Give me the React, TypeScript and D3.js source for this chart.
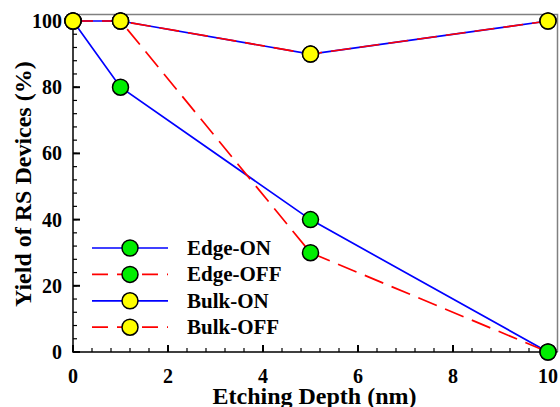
import * as d3 from 'd3';

const depths = [0, 1, 5, 10];
const edgeOn = [100, 80, 40, 0];
const edgeOff = [100, 100, 30, 0];
const bulkOn = [100, 100, 90, 100];
const bulkOff = [100, 100, 90, 100];
const xTicks = [0, 2, 4, 6, 8, 10];
const yTicks = [0, 20, 40, 60, 80, 100];

const series = [
  { name: 'Edge-ON', values: edgeOn, line: '#0000ff', dash: null, fill: '#00ee00' },
  { name: 'Edge-OFF', values: edgeOff, line: '#ff0000', dash: '20,9', fill: '#00ee00' },
  { name: 'Bulk-ON', values: bulkOn, line: '#0000ff', dash: null, fill: '#ffff00' },
  { name: 'Bulk-OFF', values: bulkOff, line: '#ff0000', dash: '20,9', fill: '#ffff00' },
];

const font = '"Liberation Serif", "Times New Roman", serif';

export default function App() {
  const width = 560;
  const height = 407;
  const left = 73;
  const bottom = 352;

  const x = d3.scaleLinear().domain([0, 10.2]).range([left, left + 475 * 1.02]);
  const y = d3.scaleLinear().domain([0, 102]).range([bottom, bottom - 331 * 1.02]);
  const [x0, x1] = x.range();
  const [y0, y1] = y.range();

  const line = d3
    .line<number>()
    .x((_, i) => x(depths[i]))
    .y((d) => y(d));

  const xMinor = d3.range(0, 10.01, 0.4);
  const yMinor = d3.range(0, 100.01, 4);

  return (
    <svg
      width={width}
      height={height}
      style={{ position: 'absolute', left: 0, top: 0, background: '#fff' }}
      fontFamily={font}
      fontWeight="bold"
    >
      {/* frame top & right */}
      <path d={`M${x0},${y1}H${x1}V${y0}`} fill="none" stroke="#808080" strokeWidth={1.5} />

      {/* axes */}
      <path d={`M${x0},${y1}V${y0}H${x1}`} fill="none" stroke="#000" strokeWidth={1.5} />
      {xMinor.map((v, i) => (
        <line key={'xm' + i} x1={x(v)} x2={x(v)} y1={y0} y2={y0 - 4} stroke="#000" strokeWidth={1.2} />
      ))}
      {xTicks.map((v) => (
        <line key={'xt' + v} x1={x(v)} x2={x(v)} y1={y0} y2={y0 - 7} stroke="#000" strokeWidth={2} />
      ))}
      {yMinor.map((v, i) => (
        <line key={'ym' + i} x1={x0} x2={x0 + 4} y1={y(v)} y2={y(v)} stroke="#000" strokeWidth={1.2} />
      ))}
      {yTicks.map((v) => (
        <line key={'yt' + v} x1={x0} x2={x0 + 7} y1={y(v)} y2={y(v)} stroke="#000" strokeWidth={2} />
      ))}

      {xTicks.map((v) => (
        <text key={'xl' + v} x={x(v)} y={383} fontSize={20} textAnchor="middle">
          {v}
        </text>
      ))}
      {yTicks.map((v) => (
        <text key={'yl' + v} x={62} y={y(v) + 7} fontSize={20} textAnchor="end">
          {v}
        </text>
      ))}

      <text x={(x0 + 548) / 2 + 4} y={404} fontSize={24} textAnchor="middle">
        Etching Depth (nm)
      </text>
      <text
        transform={`translate(31,${(y0 + y1) / 2 + 1}) rotate(-90)`}
        fontSize={24}
        textAnchor="middle"
      >
        Yield of RS Devices (%)
      </text>

      {/* lines */}
      {series.map((s) => (
        <path
          key={'l' + s.name}
          d={line(s.values) || ''}
          fill="none"
          stroke={s.line}
          strokeWidth={1.7}
          strokeDasharray={s.dash || undefined}
        />
      ))}
      {/* markers */}
      {series.map((s) =>
        s.values.map((v, i) => (
          <circle
            key={'m' + s.name + i}
            cx={x(depths[i])}
            cy={y(v)}
            r={8}
            fill={s.fill}
            stroke="#000"
            strokeWidth={1.5}
          />
        ))
      )}

      {/* legend */}
      {series.map((s, i) => {
        const ly = 248 + i * 26.4;
        return (
          <g key={'lg' + s.name}>
            <line
              x1={92}
              x2={168}
              y1={ly}
              y2={ly}
              stroke={s.line}
              strokeWidth={1.7}
              strokeDasharray={s.dash ? '16,9' : undefined}
            />
            <circle cx={130} cy={ly} r={8} fill={s.fill} stroke="#000" strokeWidth={1.5} />
            <text x={187} y={ly + 7} fontSize={21}>
              {s.name}
            </text>
          </g>
        );
      })}
    </svg>
  );
}
